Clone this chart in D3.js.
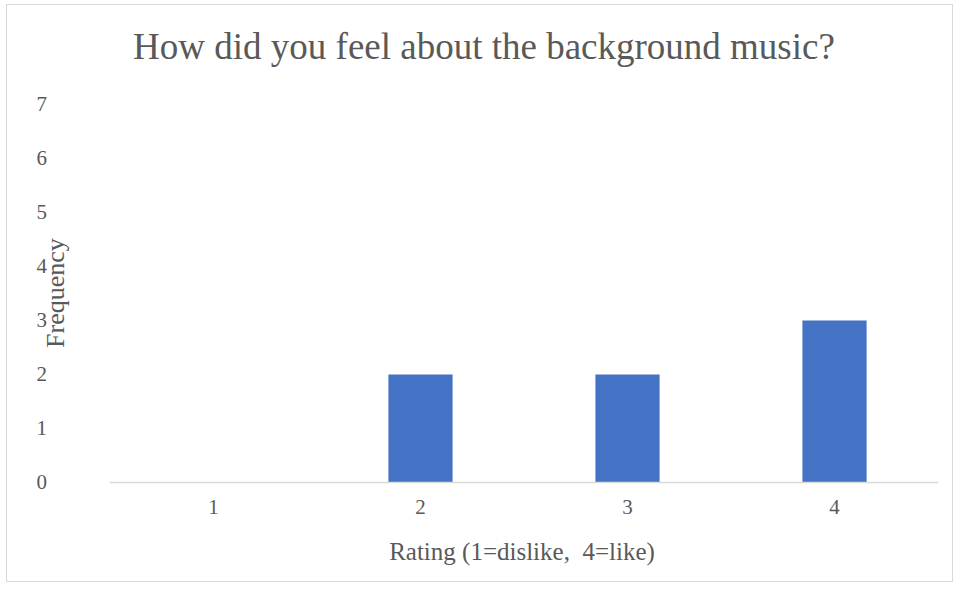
<!DOCTYPE html>
<html><head><meta charset="utf-8">
<script src="https://cdn.jsdelivr.net/npm/d3@7"></script>
<style>body{margin:0;background:#fff;} svg{display:block;} text{white-space:pre;}</style>
</head><body>
<script>
const categories = ["1","2","3","4"];
const values = [0,2,2,3];
const yTicks = [0,1,2,3,4,5,6,7];
const title = "How did you feel about the background music?";
const xTitle = "Rating (1=dislike,  4=like)";
const yTitle = "Frequency";

const W = 954, H = 592;
const svg = d3.select("body").append("svg").attr("width", W).attr("height", H);
svg.append("rect").attr("x",6.5).attr("y",4.5).attr("width",946).attr("height",577)
  .attr("fill","#fff").attr("stroke","#d9d9d9");

const pLeft = 110, pRight = 938, pTop = 104.5, pBottom = 482.5;
const x = d3.scaleBand().domain(categories).range([pLeft,pRight]).paddingInner(0.69).paddingOuter(0.345);
const y = d3.scaleLinear().domain([0,7]).range([pBottom, pTop]);
const font = "'Liberation Serif','Times New Roman',serif";

svg.append("g").selectAll("rect").data(categories.map((c,i)=>({c,v:values[i]})).filter(d=>d.v>0))
  .join("rect").attr("x",d=>x(d.c)).attr("width",x.bandwidth())
  .attr("y",d=>y(d.v)).attr("height",d=>y(0)-y(d.v)).attr("fill","#4472c4");

const ya = svg.append("g").attr("transform",`translate(${pLeft},0)`)
  .call(d3.axisLeft(y).tickValues(yTicks).tickSize(0).tickPadding(63).tickFormat(d3.format("d")));
ya.select(".domain").remove();
ya.selectAll("text").attr("font-family",font).attr("font-size",21).attr("fill","#595959").attr("dy","0.3em");

const xa = svg.append("g").attr("transform",`translate(0,${pBottom})`)
  .call(d3.axisBottom(x).tickSize(0).tickPadding(17));
xa.select(".domain").attr("stroke","#d9d9d9").attr("stroke-width",1.5).attr("d",`M${pLeft},0H${pRight}`);
xa.selectAll("text").attr("font-family",font).attr("font-size",21).attr("fill","#595959");

svg.append("text").attr("x",522).attr("y",560).attr("text-anchor","middle")
  .attr("font-family",font).attr("font-size",25).attr("fill","#595959").text(xTitle);
svg.append("text").attr("transform","translate(64,293) rotate(-90)").attr("text-anchor","middle")
  .attr("font-family",font).attr("font-size",26).attr("fill","#595959").text(yTitle);
svg.append("text").attr("x",484).attr("y",59).attr("text-anchor","middle")
  .attr("font-family",font).attr("font-size",37).attr("fill","#595959").text(title);
</script>
</body></html>
